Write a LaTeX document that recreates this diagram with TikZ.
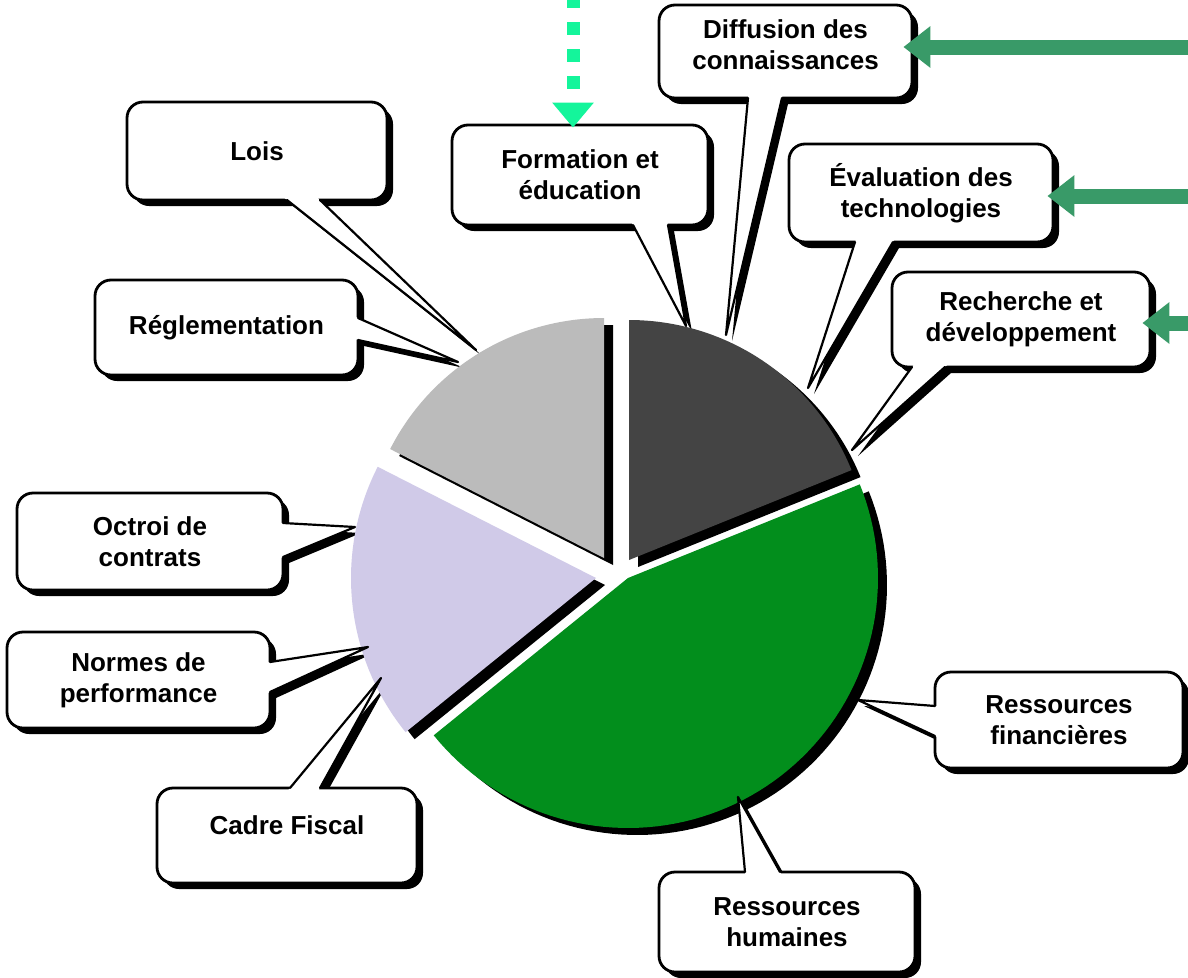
\documentclass[tikz,border=0pt]{standalone}
\usepackage{fontspec}
\setmainfont{Liberation Sans}
\usetikzlibrary{arrows.meta,shadows,calc}
\pgfdeclarelayer{bglayer}
\pgfdeclarelayer{shadowlayer}
\pgfsetlayers{bglayer,shadowlayer,main}
\definecolor{pgray}{RGB}{187,187,187}
\definecolor{pdark}{RGB}{68,68,68}
\definecolor{pgreen}{RGB}{2,142,28}
\definecolor{plav}{RGB}{208,202,232}
\definecolor{arrowgreen}{RGB}{57,154,104}
\definecolor{dotgreen}{RGB}{20,245,155}
\newcommand\pieslice[6]{\fill[#1] (#2,#3) -- plot[domain=#5:#6,samples=80] ({#2+#4*cos(\x)},{#3+#4*sin(\x)}) -- cycle;}
\newcommand\calltail[3]{%
  \begin{pgfonlayer}{shadowlayer}\fill[black] ($(#1)+(6,6)$) -- ($(#3)+(6,6)$) -- ($(#2)+(6,6)$) -- cycle;\end{pgfonlayer}%
  \fill[white] ($(#1)!-5pt!(#3)$) -- (#3) -- ($(#2)!-5pt!(#3)$) -- cycle;%
  \draw[tailline] (#1) -- (#3) -- (#2);}
\begin{document}
\begin{tikzpicture}[x=1pt,y=-1pt,
  callout/.style={draw=black, line width=2.8pt, fill=white, rounded corners=16pt,
    font=\bfseries\fontsize{26}{31}\selectfont, align=center, inner sep=0pt,
    drop shadow={shadow xshift=6pt, shadow yshift=-6pt, fill=black, opacity=1}},
  tailline/.style={draw=black, line width=2.2pt, line join=round, line cap=round},
  garrow/.style={arrowgreen, line width=15pt, -{Triangle[length=27pt,width=40pt]}},
  dotarrow/.style={dotgreen, line width=13pt, dash pattern=on 13pt off 14pt, dash phase=5pt,
    -{Triangle[length=25pt,width=40pt]}}]
\useasboundingbox (0,0) rectangle (1188,977);
\begin{pgfonlayer}{bglayer}
\fill[white] (0,0) rectangle (1188,977);
\end{pgfonlayer}

% pie shadows
\pieslice{black}{613}{565}{240}{207}{270}
\pieslice{black}{638}{567}{240}{270}{338}
\pieslice{black}{637}{585}{250}{338}{501}
\pieslice{black}{605}{585}{245}{141}{207}
% pie slices
\pieslice{pgray}{604}{558}{240}{207}{270}
\pieslice{pdark}{629}{560}{240}{270}{338}
\pieslice{pgreen}{628}{578}{250}{338}{501}
\pieslice{plav}{596}{578}{245}{141}{207}

% callout boxes
\node[callout, minimum width=253pt, minimum height=93pt, text depth=14pt] (diff) at (785.5,51.5) {Diffusion des\\connaissances};
\node[callout, minimum width=256pt, minimum height=100pt] (form) at (580,175) {Formation et\\éducation};
\node[callout, minimum width=264pt, minimum height=98pt] (eval) at (921,193) {Évaluation des\\technologies};
\node[callout, minimum width=258pt, minimum height=95pt] (rech) at (1021,319.5) {Recherche et\\développement};
\node[callout, minimum width=260pt, minimum height=98pt] (lois) at (257,151) {Lois};
\node[callout, minimum width=263pt, minimum height=95pt] (regl) at (226.5,327.5) {Réglementation};
\node[callout, minimum width=266pt, minimum height=97pt] (octr) at (150,541.5) {Octroi de\\contrats};
\node[callout, minimum width=263pt, minimum height=96pt] (norm) at (138.5,680) {Normes de\\performance};
\node[callout, minimum width=260pt, minimum height=95pt, text depth=20pt] (cadr) at (287,835.5) {Cadre Fiscal};
\node[callout, minimum width=248pt, minimum height=96pt] (fin) at (1059,720) {Ressources\\financières};
\node[callout, minimum width=256pt, minimum height=100pt] (hum) at (787,922) {Ressources\\humaines};

% tail coordinates
\coordinate (diffA) at (748,98);  \coordinate (diffB) at (782,98);  \coordinate (diffT) at (726,335);
\coordinate (formA) at (633,225); \coordinate (formB) at (668,225); \coordinate (formT) at (686,326);
\coordinate (evalA) at (855,242); \coordinate (evalB) at (893,242); \coordinate (evalT) at (808,388);
\coordinate (rechA) at (912,367); \coordinate (rechB) at (945,367); \coordinate (rechT) at (852,450);
\coordinate (loisA) at (287,200); \coordinate (loisB) at (320,200); \coordinate (loisT) at (476,350);
\coordinate (reglA) at (358,318); \coordinate (reglB) at (358,340); \coordinate (reglT) at (458,362);
\coordinate (octrA) at (283,523); \coordinate (octrB) at (283,557); \coordinate (octrT) at (355,527);
\coordinate (normA) at (270,662); \coordinate (normB) at (270,692); \coordinate (normT) at (368,647);
\coordinate (cadrA) at (290,788); \coordinate (cadrB) at (320,788); \coordinate (cadrT) at (381,678);
\coordinate (finA) at (935,706);  \coordinate (finB) at (935,736);  \coordinate (finT) at (858,700);
\coordinate (humA) at (745,872);  \coordinate (humB) at (780,872);  \coordinate (humT) at (738,797);

\calltail{diffA}{diffB}{diffT}
\calltail{formA}{formB}{formT}
\calltail{evalA}{evalB}{evalT}
\calltail{rechA}{rechB}{rechT}
\calltail{loisA}{loisB}{loisT}
\calltail{reglA}{reglB}{reglT}
\calltail{octrA}{octrB}{octrT}
\calltail{normA}{normB}{normT}
\calltail{cadrA}{cadrB}{cadrT}
\calltail{finA}{finB}{finT}
\calltail{humA}{humB}{humT}

% arrows
\coordinate (srcD) at (1188,47);
\coordinate (srcE) at (1188,196);
\coordinate (srcR) at (1188,323);
\coordinate (srcF) at (573,0);
\draw[garrow, shorten >=-10pt] (srcD) -- (srcD -| diff.east);
\draw[garrow, shorten >=-7pt] (srcE) -- (srcE -| eval.east);
\draw[garrow, shorten >=-9pt] (srcR) -- (srcR -| rech.east);
\draw[dotarrow, shorten >=-4pt] (srcF) -- (srcF |- form.north);
\end{tikzpicture}
\end{document}
